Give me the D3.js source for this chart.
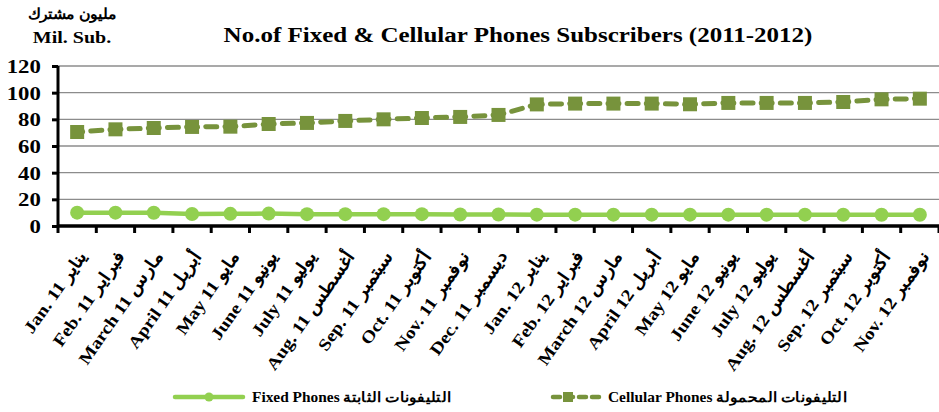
<!DOCTYPE html>
<html>
<head>
<meta charset="utf-8">
<script src="https://cdn.jsdelivr.net/npm/d3@7"></script>
<style>
  body { margin: 0; background: #fff; }
  text { font-family: "Liberation Serif", "Times New Roman", serif; font-weight: bold; fill: #000; }
</style>
</head>
<body>
<svg id="chart" width="939" height="412"></svg>
<script>
const categoriesEn = ["Jan. 11", "Feb.  11", "March  11", "April  11", "May 11", "June  11", "July  11", "Aug.  11", "Sep.  11", "Oct. 11", "Nov.  11", "Dec. 11",
  "Jan. 12", "Feb. 12", "March  12", "April 12", "May 12", "June 12", "July 12", "Aug.  12", "Sep.  12", "Oct. 12", "Nov.  12"];
const categoriesAr = ["يناير", "فبراير", "مارس", "أبريل", "مايو", "يونيو", "يوليو", "أغسطس", "سبتمبر", "أكتوبر", "نوفمبر", "ديسمبر",
  "يناير", "فبراير", "مارس", "أبريل", "مايو", "يونيو", "يوليو", "أغسطس", "سبتمبر", "أكتوبر", "نوفمبر"];

const cellular = [70.5, 72.5, 73.5, 74.3, 74.5, 76.5, 77.3, 78.8, 80.0, 81.0, 81.8, 83.3,
  91.2, 91.8, 91.8, 91.8, 91.3, 92.3, 92.3, 92.3, 93.0, 95.0, 95.5];
const fixed = [10.0, 10.0, 9.9, 9.0, 9.1, 9.3, 8.9, 8.9, 8.9, 8.9, 8.6, 8.6,
  8.5, 8.5, 8.5, 8.5, 8.5, 8.5, 8.5, 8.5, 8.4, 8.4, 8.4];

const yTicks = [0, 20, 40, 60, 80, 100, 120];

const cellColor = "#77933C";
const fixedColor = "#92D050";

const svg = d3.select("#chart");
const plotLeft = 58, plotRight = 939, plotTop = 66, plotBottom = 226;

const x = d3.scaleBand().domain(d3.range(categoriesEn.length)).range([plotLeft, plotRight]);
const y = d3.scaleLinear().domain([0, 120]).range([plotBottom, plotTop]);
const cx = i => x(i) + x.bandwidth() / 2;

// stretched text helper (reference type is wider than Liberation Serif)
function label(g, px, py, txt, size, anchor, sx) {
  return g.append("text")
    .attr("transform", `translate(${px},${py}) scale(${sx},1)`)
    .attr("text-anchor", anchor)
    .style("font-size", size + "px")
    .text(txt);
}

// title
label(svg, 518, 42, "No.of Fixed & Cellular Phones Subscribers (2011-2012)", 20, "middle", 1.25);
label(svg, 72, 19, "مليون مشترك", 15, "middle", 1.05);
label(svg, 72, 43, "Mil. Sub.", 16, "middle", 1.25);

// gridlines
svg.append("g")
  .selectAll("line")
  .data(yTicks.filter(d => d > 0))
  .join("line")
  .attr("x1", plotLeft).attr("x2", plotRight)
  .attr("y1", d => y(d)).attr("y2", d => y(d))
  .attr("stroke", "#8c8c8c")
  .attr("stroke-width", 1.3);

// y axis
const yAxis = svg.append("g")
  .attr("transform", `translate(${plotLeft},0)`)
  .call(d3.axisLeft(y).tickValues(yTicks).tickSize(6).tickPadding(10));
yAxis.select(".domain").attr("stroke", "#000").attr("stroke-width", 3).attr("d", `M0,${plotTop}V${plotBottom}`);
yAxis.selectAll(".tick line").attr("stroke", "#000").attr("stroke-width", 3);
yAxis.selectAll(".tick text")
  .style("font-size", "19px")
  .attr("dy", "0.34em")
  .attr("transform", "translate(-10,0) scale(1.2,1) translate(10,0)");

// x axis
const xAxis = svg.append("g")
  .attr("transform", `translate(0,${plotBottom})`)
  .call(d3.axisBottom(x).tickSize(0).tickFormat(""));
xAxis.select(".domain").attr("stroke", "#000").attr("stroke-width", 3.5).attr("d", `M${plotLeft},0H${plotRight}`);
xAxis.selectAll(".tick").remove();
xAxis.selectAll(".sep")
  .data(d3.range(categoriesEn.length + 1))
  .join("line")
  .attr("x1", i => plotLeft + i * x.bandwidth())
  .attr("x2", i => plotLeft + i * x.bandwidth())
  .attr("y1", 0).attr("y2", 7)
  .attr("stroke", "#000").attr("stroke-width", 3);

// rotated category labels
svg.append("g")
  .selectAll("text")
  .data(d3.range(categoriesEn.length))
  .join("text")
  .attr("transform", i => `translate(${cx(i) + 5},${plotBottom + 27}) rotate(-55) scale(1.15,1)`)
  .attr("text-anchor", "end")
  .attr("dy", "0.35em")
  .style("font-size", "17px")
  .text(i => categoriesEn[i] + " " + categoriesAr[i]);

// fixed series
svg.append("path")
  .datum(fixed)
  .attr("fill", "none")
  .attr("stroke", fixedColor)
  .attr("stroke-width", 4.5)
  .attr("stroke-linejoin", "round")
  .attr("d", d3.line().x((d, i) => cx(i)).y(d => y(d)));
svg.append("g")
  .selectAll("circle")
  .data(fixed)
  .join("circle")
  .attr("cx", (d, i) => cx(i))
  .attr("cy", d => y(d))
  .attr("r", 7)
  .attr("fill", fixedColor);

// cellular series, dashes restarted per segment
svg.append("g")
  .selectAll("line")
  .data(d3.pairs(cellular.map((v, i) => [cx(i), y(v)])))
  .join("line")
  .attr("x1", d => d[0][0]).attr("y1", d => d[0][1])
  .attr("x2", d => d[1][0]).attr("y2", d => d[1][1])
  .attr("stroke", cellColor)
  .attr("stroke-width", 5)
  .attr("stroke-linecap", "round")
  .attr("stroke-dasharray", "11,8.2")
  .attr("stroke-dashoffset", 5.5);
svg.append("g")
  .selectAll("rect")
  .data(cellular)
  .join("rect")
  .attr("x", (d, i) => cx(i) - 7)
  .attr("y", d => y(d) - 7)
  .attr("width", 14).attr("height", 14)
  .attr("fill", cellColor);

// legend
const lg = svg.append("g");
lg.append("line").attr("x1", 175).attr("x2", 243).attr("y1", 397).attr("y2", 397)
  .attr("stroke", fixedColor).attr("stroke-width", 4.5).attr("stroke-linecap", "round");
lg.append("circle").attr("cx", 209).attr("cy", 397).attr("r", 4.5).attr("fill", fixedColor);
label(lg, 252, 402, "Fixed Phones التليفونات الثابتة", 14, "start", 1.1);

lg.append("line").attr("x1", 553).attr("x2", 603).attr("y1", 397).attr("y2", 397)
  .attr("stroke", cellColor).attr("stroke-width", 4.5).attr("stroke-linecap", "round")
  .attr("stroke-dasharray", "7,6");
lg.append("rect").attr("x", 563).attr("y", 392).attr("width", 10).attr("height", 10).attr("fill", cellColor);
label(lg, 608, 402, "Cellular Phones  التليفونات المحمولة", 14, "start", 1.1);
</script>
</body>
</html>
